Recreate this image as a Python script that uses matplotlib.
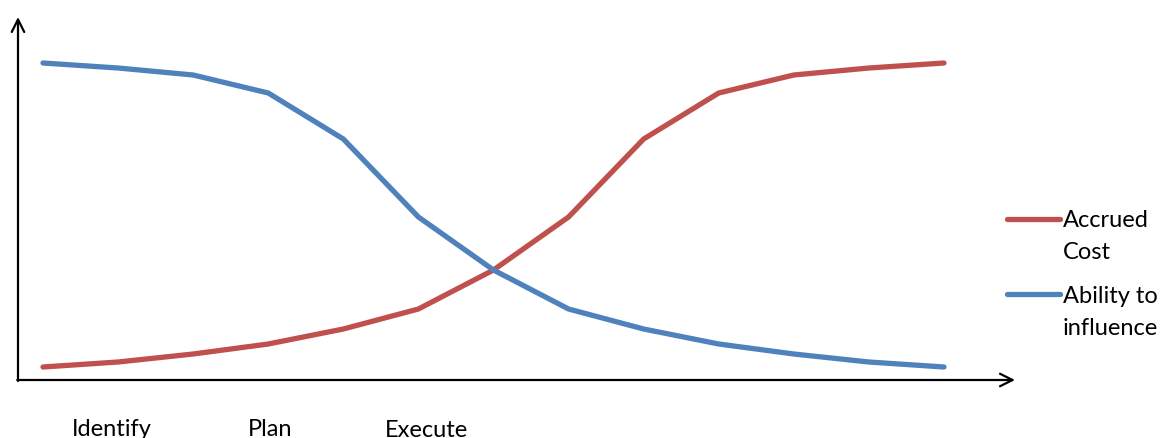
import matplotlib
matplotlib.use("Agg")
import matplotlib.pyplot as plt

plt.rcParams["font.family"] = ["Lato", "DejaVu Sans"]

# project phases (index along the x axis) and the two curves
steps = list(range(13))
accrued_cost = [13, 18, 26, 36, 51, 71, 110, 163, 241, 287, 305, 312, 317]
ability_to_influence = [317, 312, 305, 287, 241, 163, 110, 71, 51, 36, 26, 18, 13]

phase_labels = ["Identify", "Plan", "Execute"]
phase_pos = [0.92, 3.03, 5.11]

series_names = [["Accrued", "Cost"], ["Ability to", "influence"]]
red = "#C0504D"
blue = "#4F81BD"

fig = plt.figure(figsize=(11.69, 4.39), dpi=100)
ax = fig.add_axes([0, 0, 1, 1])

# pixel mapping: x = 43 + 75.08*i, y value ~ 381 - ypix
step = 75.08
ax.set_xlim(-43 / step, (1169 - 43) / step)
ax.set_ylim(-58, 381)
ax.axis("off")

ax.plot(steps, accrued_cost, color=red, lw=3.8, solid_capstyle="round",
        solid_joinstyle="round")
ax.plot(steps, ability_to_influence, color=blue, lw=3.8, solid_capstyle="round",
        solid_joinstyle="round")

# hand-drawn style axes with open arrowheads
x0 = -25 / step
arrow = dict(arrowstyle="->,head_length=0.9,head_width=0.45", color="black",
             lw=1.6, shrinkA=0, shrinkB=0)
ax.annotate("", xy=(x0, 363), xytext=(x0, -1), arrowprops=arrow)
ax.annotate("", xy=((1015 - 43) / step, 0), xytext=(x0 - 0.01, 0),
            arrowprops=arrow)

for lab, pos in zip(phase_labels, phase_pos):
    base = -56 if lab == "Execute" else -55
    ax.text(pos, base, lab, ha="center", va="baseline", fontsize=17)

# legend drawn by hand to match the layout
leg_x0 = (1007 - 43) / step
leg_x1 = (1060 - 43) / step
txt_x = (1063 - 43) / step
for lines, col, yline, base in zip(series_names, [red, blue], [161, 86], [154, 78]):
    ax.plot([leg_x0, leg_x1], [yline, yline], color=col, lw=3.8,
            solid_capstyle="round")
    for k, t in enumerate(lines):
        ax.text(txt_x, base - 32 * k, t, ha="left", va="baseline", fontsize=17)

fig.savefig("out.png", dpi=100)
